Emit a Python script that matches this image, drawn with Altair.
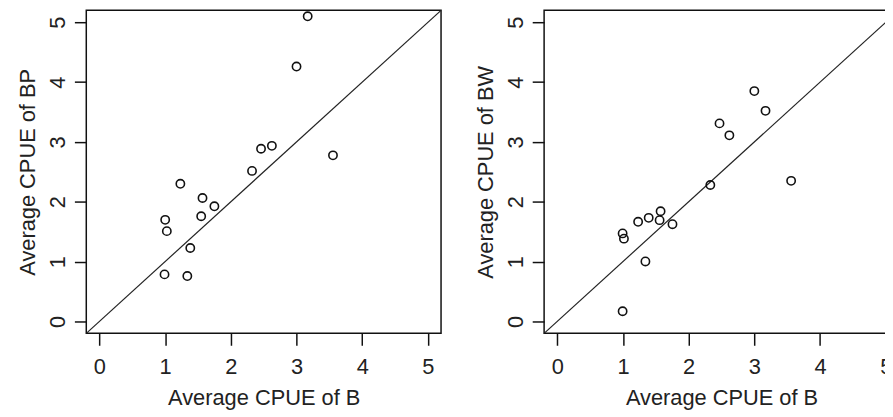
import altair as alt
import pandas as pd

# Left panel: B vs BP
bp_x = [3.17, 3.00, 3.555, 2.625, 2.46, 2.323, 1.232, 1.569, 1.75, 1.549, 1.001, 1.026, 1.383, 0.991, 1.338]
bp_y = [5.10, 4.26, 2.776, 2.935, 2.886, 2.516, 2.30, 2.063, 1.924, 1.758, 1.698, 1.509, 1.227, 0.786, 0.758]

# Right panel: B vs BW
bw_x = [3.00, 3.17, 2.47, 2.62, 3.56, 2.33, 1.573, 1.392, 1.231, 1.558, 1.754, 0.995, 1.015, 1.342, 0.995]
bw_y = [3.85, 3.52, 3.31, 3.11, 2.35, 2.28, 1.841, 1.731, 1.665, 1.692, 1.625, 1.471, 1.383, 1.002, 0.17]

line_vals = [-0.2, 5.2]
ticks = [0, 1, 2, 3, 4, 5]
x_title = "Average CPUE of B"
y_titles = ["Average CPUE of BP", "Average CPUE of BW"]

FONT = "Liberation Sans"
W, H = 358, 326
dom = [-0.2, 5.2]


def panel(xs, ys, ytitle):
    pts = pd.DataFrame({"x": xs, "y": ys})
    ln = pd.DataFrame({"x": line_vals, "y": line_vals})
    xsc = alt.Scale(domain=dom, nice=False, zero=False)
    ysc = alt.Scale(domain=dom, nice=False, zero=False)
    xax = alt.Axis(values=ticks, title=x_title, titleY=72, titleBaseline="alphabetic")
    yax = alt.Axis(values=ticks, title=ytitle, labelAngle=270, labelAlign="center",
                   labelBaseline="alphabetic", labelPadding=10,
                   titleAngle=270, titleX=-52, titleBaseline="alphabetic")
    line = alt.Chart(ln).mark_line(color="#222", strokeWidth=1.2).encode(
        x=alt.X("x:Q", scale=xsc, axis=xax),
        y=alt.Y("y:Q", scale=ysc, axis=yax),
    )
    points = alt.Chart(pts).mark_point(shape="circle", filled=False, color="#111",
                                       size=70, strokeWidth=1.6, opacity=1).encode(
        x=alt.X("x:Q", scale=xsc, axis=xax),
        y=alt.Y("y:Q", scale=ysc, axis=yax),
    )
    return alt.layer(line, points).properties(width=W, height=H)


chart = alt.hconcat(
    panel(bp_x, bp_y, y_titles[0]),
    panel(bw_x, bw_y, y_titles[1]),
    spacing=29,
).properties(
    padding={"left": 8, "top": -3.5, "right": -18, "bottom": -1},
    background="white",
).configure_view(
    stroke="#111", strokeWidth=1.5,
).configure_axis(
    grid=False, domain=False, ticks=True, tickSize=12, tickWidth=1.5, tickColor="#111",
    labelFont=FONT, labelFontSize=22, labelColor="#222", labelPadding=12,
    titleFont=FONT, titleFontSize=22, titleColor="#222", titleFontWeight="normal",
)

chart.save("out.html", embed_options={"renderer": "svg", "actions": False})
